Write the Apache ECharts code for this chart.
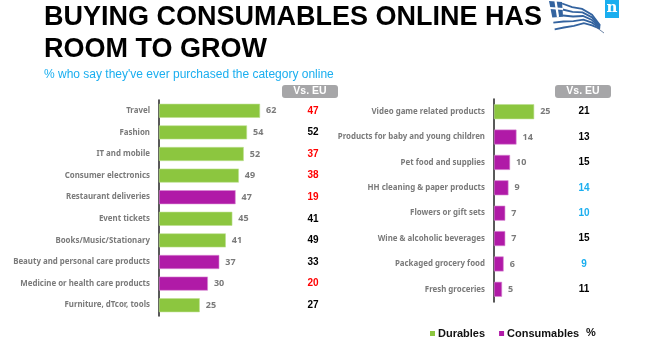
<!DOCTYPE html>
<html>
<head>
<meta charset="utf-8">
<style>
  html, body { margin: 0; padding: 0; background: #fff; }
  #main { width: 655px; height: 355px; }
</style>
<script src="https://cdn.jsdelivr.net/npm/echarts@6/dist/echarts.min.js"></script>
</head>
<body>
<div id="main"></div>
<script>
  const leftCategories = ['Travel', 'Fashion', 'IT and mobile', 'Consumer electronics', 'Restaurant deliveries', 'Event tickets', 'Books/Music/Stationary', 'Beauty and personal care products', 'Medicine or health care products', 'Furniture, dTcor, tools'];
  const leftDurables = [62, 54, 52, 49, null, 45, 41, null, null, 25];
  const leftConsumables = [null, null, null, null, 47, null, null, 37, 30, null];
  const leftVsEu = [47, 52, 37, 38, 19, 41, 49, 33, 20, 27];
  const leftVsColors = ['#ff0000', '#000', '#ff0000', '#ff0000', '#ff0000', '#000', '#000', '#000', '#ff0000', '#000'];

  const rightCategories = ['Video game related products', 'Products for baby and young children', 'Pet food and supplies', 'HH cleaning & paper products', 'Flowers or gift sets', 'Wine & alcoholic beverages', 'Packaged grocery food', 'Fresh groceries'];
  const rightDurables = [25, null, null, null, null, null, null, null];
  const rightConsumables = [null, 14, 10, 9, 7, 7, 6, 5];
  const rightVsEu = [21, 13, 15, 14, 10, 15, 9, 11];
  const rightVsColors = ['#000', '#000', '#000', '#1aaeef', '#1aaeef', '#000', '#1aaeef', '#000'];

  const GREEN = '#8cc63f';
  const PURPLE = '#b01aa7';
  const LABEL_GRAY = '#7a7a7a';
  const labelFont = '"Noto Sans", sans-serif';

  let myChart = echarts.init(document.getElementById('main'), null, { renderer: 'canvas' });

  // two category axes per panel, the right one only carries the Vs. EU column
  function catAxes(gridIndex, cats, vs, colors) {
    return [
      {
        type: 'category', gridIndex: gridIndex, inverse: true, data: cats,
        axisLine: { lineStyle: { color: '#222', width: 1.5 } },
        axisTick: { show: false },
        axisLabel: { color: LABEL_GRAY, fontFamily: labelFont, fontWeight: 'bold', fontSize: 7.9, margin: 9 }
      },
      {
        type: 'category', gridIndex: gridIndex, inverse: true, position: 'right', data: vs,
        axisLine: { show: false }, axisTick: { show: false },
        axisLabel: {
          align: 'center', margin: 0, fontFamily: 'Liberation Sans', fontWeight: 'bold', fontSize: 10,
          color: function (v, i) { return colors[i]; }
        }
      }
    ];
  }

  function bars(name, color, data, axisIdx) {
    return {
      name: name, type: 'bar', stack: 'p' + axisIdx, xAxisIndex: axisIdx, yAxisIndex: axisIdx * 2,
      data: data, barWidth: axisIdx === 0 ? 14 : 15,
      itemStyle: { color: color, borderColor: color === GREEN ? '#bcdf8e' : '#d98ad4', borderWidth: 0.6 },
      label: {
        show: true, position: 'right', distance: 6, color: LABEL_GRAY,
        fontFamily: labelFont, fontWeight: 'bold', fontSize: 9
      }
    };
  }

  // waving flag, decoration only: stripes run between a top and a bottom edge
  const flagTop = [[549, 1], [562, 2], [572, 6], [582, 8], [592, 14], [600, 25]];
  const flagBottom = [[555, 31], [564, 29], [574, 27], [584, 24], [592, 26], [600, 29]];
  function flagPoint(k, t) {
    return [flagTop[k][0] + (flagBottom[k][0] - flagTop[k][0]) * t, flagTop[k][1] + (flagBottom[k][1] - flagTop[k][1]) * t];
  }
  function flagStripes() {
    let out = [];
    for (let i = 0; i < 9; i += 2) {
      let t = (i + 0.5) / 9;
      let pts = [0, 1, 2, 3, 4, 5].map(function (k) { return flagPoint(k, t); });
      if (i < 5) pts = pts.slice(1);
      out.push({
        type: 'polyline', z: 5,
        shape: { points: pts },
        style: { stroke: '#33639f', lineWidth: 1.8, fill: null }
      });
    }
    out.push({ type: 'polygon', z: 5, shape: { points: [flagTop[0], flagTop[1], flagPoint(1, 0.55), flagPoint(0, 0.55)] }, style: { fill: '#33639f' } });
    out.push({ type: 'line', z: 6, shape: { x1: 555.5, y1: 1, x2: 558, y2: 17 }, style: { stroke: '#fff', lineWidth: 2.2 } });
    out.push({ type: 'line', z: 6, shape: { x1: 550, y1: 8, x2: 563, y2: 9 }, style: { stroke: '#fff', lineWidth: 2.2 } });
    out.push({ type: 'line', z: 5, shape: { x1: 596, y1: 27, x2: 604, y2: 33 }, style: { stroke: '#47668f', lineWidth: 0.8 } });
    return out;
  }

  function vsHeader(x) {
    return [
      { type: 'rect', z: 5, shape: { x: x, y: 85, width: 56, height: 13, r: 3 }, style: { fill: '#a6a6a8' } },
      { type: 'text', z: 6, x: x + 28, y: 91.5, style: { text: 'Vs. EU', fill: '#fff', font: 'bold 10.5px "Liberation Sans"', align: 'center', verticalAlign: 'middle' } }
    ];
  }

  let option = {
    animation: false,
    backgroundColor: '#fff',
    grid: [
      { left: 159, top: 100, width: 154, height: 216 },
      { left: 494, top: 99, width: 90, height: 203 }
    ],
    xAxis: [
      { type: 'value', gridIndex: 0, min: 0, max: 94.5, show: false },
      { type: 'value', gridIndex: 1, min: 0, max: 56, show: false }
    ],
    yAxis: catAxes(0, leftCategories, leftVsEu, leftVsColors).concat(catAxes(1, rightCategories, rightVsEu, rightVsColors)),
    legend: {
      left: 425, top: 323, icon: 'rect', itemWidth: 5, itemHeight: 5, itemGap: 14,
      data: ['Durables', 'Consumables'],
      itemStyle: { borderWidth: 0 },
      textStyle: { color: '#111', fontFamily: 'Liberation Sans', fontWeight: 'bold', fontSize: 11, padding: [0, 0, 0, -2] }
    },
    series: [
      bars('Durables', GREEN, leftDurables, 0),
      bars('Consumables', PURPLE, leftConsumables, 0),
      bars('Durables', GREEN, rightDurables, 1),
      bars('Consumables', PURPLE, rightConsumables, 1)
    ],
    graphic: [
      { type: 'text', x: 44, y: 18, style: { text: 'BUYING CONSUMABLES ONLINE HAS', fill: '#000', font: 'bold 27px "Liberation Sans"', verticalAlign: 'middle' } },
      { type: 'text', x: 44, y: 50, style: { text: 'ROOM TO GROW', fill: '#000', font: 'bold 27px "Liberation Sans"', verticalAlign: 'middle' } },
      { type: 'text', x: 44, y: 75, style: { text: "% who say they've ever purchased the category online", fill: '#1aaeef', font: '12px "Liberation Sans"', verticalAlign: 'middle' } },
      { type: 'text', x: 586, y: 333, style: { text: '%', fill: '#111', font: 'bold 11px "Liberation Sans"', verticalAlign: 'middle' } },
      { type: 'rect', z: 5, shape: { x: 605, y: 0, width: 14, height: 18 }, style: { fill: '#1aaeef' } },
      { type: 'text', z: 6, x: 612, y: 8, style: { text: 'n', fill: '#fff', font: 'bold 15px "DejaVu Serif"', align: 'center', verticalAlign: 'middle' } }
    ].concat(vsHeader(282), vsHeader(555), flagStripes())
  };

  myChart.setOption(option);
</script>
</body>
</html>
